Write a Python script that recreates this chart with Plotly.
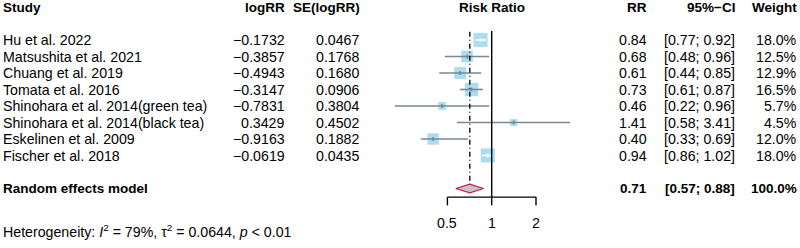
import math
import plotly.graph_objects as go

# ---------------- data ----------------
studies = ["Hu et al. 2022", "Matsushita et al. 2021", "Chuang et al. 2019",
           "Tomata et al. 2016", "Shinohara et al. 2014(green tea)",
           "Shinohara et al. 2014(black tea)", "Eskelinen et al. 2009",
           "Fischer et al. 2018"]
log_rr = ["−0.1732", "−0.3857", "−0.4943", "−0.3147", "−0.7831", "0.3429",
          "−0.9163", "−0.0619"]
se_log_rr = ["0.0467", "0.1768", "0.1680", "0.0906", "0.3804", "0.4502",
             "0.1882", "0.0435"]
rr = [0.84, 0.68, 0.61, 0.73, 0.46, 1.41, 0.40, 0.94]
ci_lo = [0.77, 0.48, 0.44, 0.61, 0.22, 0.58, 0.33, 0.86]
ci_hi = [0.92, 0.96, 0.85, 0.87, 0.96, 3.41, 0.69, 1.02]
weights = [18.0, 12.5, 12.9, 16.5, 5.7, 4.5, 12.0, 18.0]
re_rr, re_lo, re_hi, re_weight = 0.71, 0.57, 0.88, 100.0
tick_vals = [0.5, 1, 2]
tick_text = ["0.5", "1", "2"]
heterogeneity = "Heterogeneity: <i>I</i><sup>2</sup> = 79%, τ<sup>2</sup> = 0.0644, <i>p</i> &lt; 0.01"

# ---------------- layout constants ----------------
W, H = 800, 248
ROW0, ROWH = 40.0, 16.5          # pixel y of first row, row height
PX1, PXLOG2 = 491.7, 44.3        # pixel x of RR=1, pixels per doubling
XL, XR = 380, 580                # plot domain in pixels
FONT = "Liberation Sans, Arial, sans-serif"
FS = 14.2
FSB = 13.5
SQ_COL = "#87CEEB"
LINE_COL = "#778899"

def px2rr(px):
    return 2 ** ((px - PX1) / PXLOG2)

n = len(studies)
rows = list(range(n))
re_row = n + 1
hdr_row = -2
axis_row = re_row + 0.52
tick_row_end = axis_row + 0.5
ticklab_row = axis_row + 1.55
het_row = re_row + 2.6

def is_inside(i):
    half = 7.0 * math.sqrt(weights[i] / 18.0)
    c = PX1 + PXLOG2 * math.log2(rr[i])
    lo = PX1 + PXLOG2 * math.log2(ci_lo[i])
    hi = PX1 + PXLOG2 * math.log2(ci_hi[i])
    return lo >= c - half and hi <= c + half

fig = go.Figure()

# squares
fig.add_trace(go.Scatter(
    x=rr, y=rows, mode="markers",
    marker=dict(symbol="square", color=SQ_COL,
                size=[14.0 * math.sqrt(w / 18.0) for w in weights],
                line=dict(width=0)),
    hoverinfo="skip", showlegend=False))

# CI lines
for inside_flag, col in [(False, LINE_COL), (True, "white")]:
    xs, ys = [], []
    for i in range(n):
        if is_inside(i) == inside_flag:
            xs += [ci_lo[i], ci_hi[i], None, rr[i], rr[i], None]
            ys += [rows[i], rows[i], None, rows[i] - 0.12, rows[i] + 0.12, None]
    fig.add_trace(go.Scatter(x=xs, y=ys, mode="lines",
                             line=dict(color=col, width=1.6),
                             hoverinfo="skip", showlegend=False))

# reference line at 1
fig.add_trace(go.Scatter(x=[1, 1], y=[-0.55, axis_row], mode="lines",
                         line=dict(color="black", width=1.4),
                         hoverinfo="skip", showlegend=False))
# random effects dashed line
fig.add_trace(go.Scatter(x=[re_rr, re_rr], y=[-0.5, re_row - 0.27], mode="lines",
                         line=dict(color="black", width=1.3, dash="5px,3px,1px,3px"),
                         hoverinfo="skip", showlegend=False))

# diamond
dh = 0.26
fig.add_trace(go.Scatter(
    x=[re_lo, re_rr, re_hi, re_rr, re_lo],
    y=[re_row, re_row - dh, re_row, re_row + dh, re_row],
    mode="lines", fill="toself", fillcolor="#C4C4C4",
    line=dict(color="#C2185B", width=1.2),
    hoverinfo="skip", showlegend=False))

# x axis (drawn)
fig.add_trace(go.Scatter(
    x=[tick_vals[0], tick_vals[0], None, tick_vals[0], tick_vals[-1], None,
       tick_vals[1], tick_vals[1], None, tick_vals[2], tick_vals[2]],
    y=[tick_row_end, axis_row, None, axis_row, axis_row, None,
       axis_row, tick_row_end, None, axis_row, tick_row_end],
    mode="lines", line=dict(color="black", width=1.4),
    hoverinfo="skip", showlegend=False))

ann = []
def txt(x, y, s, anchor, xref="paper", size=FS, bold=False):
    if bold:
        s = "<b>" + s + "</b>"
        size = FSB
    if xref == "x":
        x = math.log10(x)   # annotations on a log axis take log10 positions
    ann.append(dict(x=x, y=y, xref=xref, yref="y", text=s, showarrow=False,
                    xanchor=anchor, yanchor="middle",
                    font=dict(family=FONT, size=size, color="black")))

def pxx(p):
    return p / W

for v, t in zip(tick_vals, tick_text):
    txt(v, ticklab_row, t, "center", xref="x")

# header
txt(pxx(1), hdr_row, "Study", "left", bold=True)
txt(pxx(287), hdr_row, "logRR", "right", bold=True)
txt(pxx(362), hdr_row, "SE(logRR)", "right", bold=True)
txt(1, hdr_row, "Risk Ratio", "center", xref="x", bold=True)
txt(pxx(649), hdr_row, "RR", "right", bold=True)
txt(pxx(737), hdr_row, "95%−CI", "right", bold=True)
txt(pxx(799), hdr_row, "Weight", "right", bold=True)

for i in range(n):
    r = rows[i]
    txt(pxx(1), r, studies[i], "left")
    txt(pxx(287), r, log_rr[i], "right")
    txt(pxx(362), r, se_log_rr[i], "right")
    txt(pxx(649), r, f"{rr[i]:.2f}", "right")
    txt(pxx(737), r, f"[{ci_lo[i]:.2f}; {ci_hi[i]:.2f}]", "right")
    txt(pxx(799), r, f"{weights[i]:.1f}%", "right")

txt(pxx(1), re_row, "Random effects model", "left", bold=True)
txt(pxx(649), re_row, f"{re_rr:.2f}", "right", bold=True)
txt(pxx(737), re_row, f"[{re_lo:.2f}; {re_hi:.2f}]", "right", bold=True)
txt(pxx(799), re_row, f"{re_weight:.1f}%", "right", bold=True)

txt(pxx(1), het_row, heterogeneity, "left", size=14.2)

fig.update_layout(
    width=W, height=H, margin=dict(l=0, r=0, t=0, b=0),
    paper_bgcolor="white", plot_bgcolor="white",
    xaxis=dict(type="log", domain=[XL / W, XR / W],
               range=[math.log10(px2rr(XL)), math.log10(px2rr(XR))],
               visible=False, fixedrange=True),
    yaxis=dict(range=[(H - ROW0) / ROWH, -ROW0 / ROWH], domain=[0, 1],
               visible=False, fixedrange=True),
    annotations=ann, showlegend=False)

fig.write_html("out.html", config={"displayModeBar": False},
               post_script="document.body.style.margin='0';document.body.style.overflow='hidden';")
